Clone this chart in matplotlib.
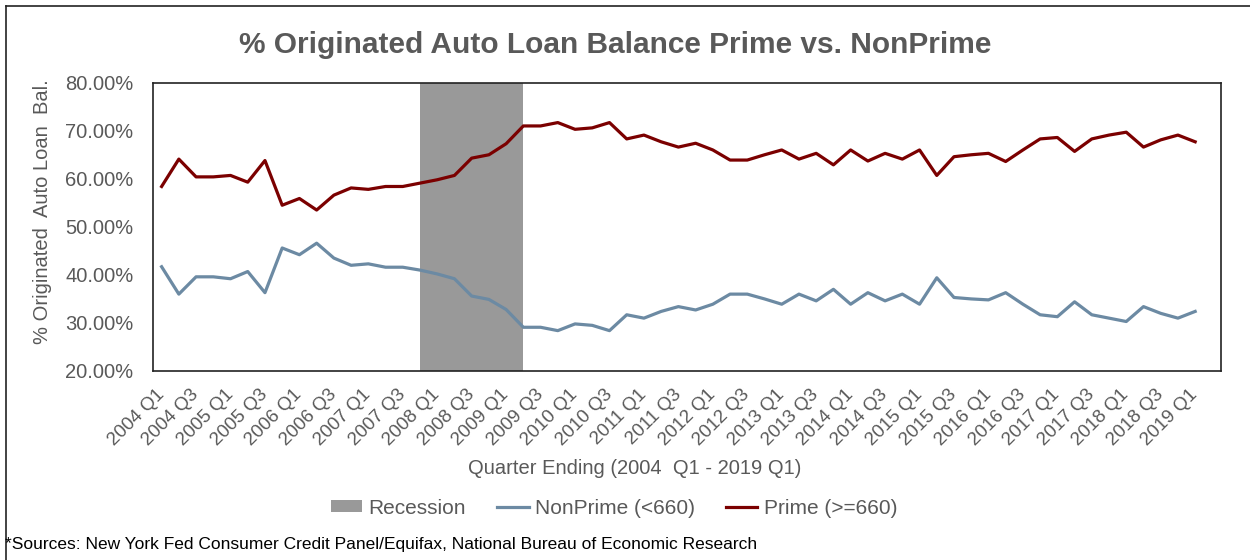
import numpy as np
import matplotlib
matplotlib.use("Agg")
import matplotlib.pyplot as plt
from matplotlib.lines import Line2D

plt.rcParams['font.family'] = ['Liberation Sans', 'DejaVu Sans']

# quarters 2004 Q1 .. 2019 Q1
quarters = ["%d Q%d" % (y, q) for y in range(2004, 2020) for q in range(1, 5)][:61]

prime = [58.4, 64.1, 60.4, 60.4, 60.7, 59.3, 63.8, 54.5, 55.9, 53.5,
         56.6, 58.1, 57.8, 58.4, 58.4, 59.1, 59.8, 60.7, 64.3, 65.0,
         67.3, 71.0, 71.0, 71.7, 70.3, 70.6, 71.7, 68.3, 69.1, 67.7,
         66.6, 67.4, 66.0, 63.9, 63.9, 65.0, 66.0, 64.1, 65.3, 62.9,
         66.0, 63.7, 65.3, 64.1, 66.0, 60.7, 64.6, 65.0, 65.3, 63.6,
         66.0, 68.3, 68.6, 65.7, 68.3, 69.1, 69.7, 66.6, 68.1, 69.1, 67.7]

nonprime = [41.7, 36.0, 39.6, 39.6, 39.2, 40.7, 36.3, 45.6, 44.2, 46.6,
            43.5, 42.0, 42.3, 41.6, 41.6, 41.0, 40.2, 39.2, 35.6, 34.9,
            32.8, 29.1, 29.1, 28.4, 29.8, 29.5, 28.4, 31.7, 31.0, 32.4,
            33.4, 32.7, 33.9, 36.0, 36.0, 35.0, 33.9, 36.0, 34.6, 37.0,
            33.9, 36.3, 34.6, 36.0, 33.9, 39.4, 35.3, 35.0, 34.8, 36.3,
            33.9, 31.7, 31.3, 34.4, 31.7, 31.0, 30.3, 33.4, 32.0, 31.0, 32.4]

recession = ("2007 Q4", "2009 Q2")
yticks = [20, 30, 40, 50, 60, 70, 80]

GRAY = "#595959"
RED = "#7b0000"
BLUE = "#6c8aa3"

fig = plt.figure(figsize=(12.5, 5.6), dpi=100)
ax = fig.add_axes([153/1250, 1 - 371/560, 1068/1250, 288.3/560])

x = np.arange(len(quarters))
ax.axvspan(quarters.index(recession[0]), quarters.index(recession[1]),
           color="#999999", lw=0, label="Recession")
ax.plot(x, nonprime, color=BLUE, lw=2.3, label="NonPrime (<660)")
ax.plot(x, prime, color=RED, lw=2.3, label="Prime (>=660)")

ax.set_xlim(-0.5, len(quarters) + 0.5)
ax.set_ylim(20, 80)
ax.set_yticks(yticks)
ax.set_yticklabels(["%.2f%%" % v for v in yticks])
ax.set_xticks(x[::2])
ax.set_xticklabels(quarters[::2], rotation=45, ha="right", va="center",
                   rotation_mode="anchor")
ax.tick_params(axis="x", length=0, pad=15, labelsize=13.5, labelcolor=GRAY)
ax.tick_params(axis="y", length=0, pad=14, labelsize=14.5, labelcolor=GRAY)
for s in ax.spines.values():
    s.set_color("#222222")
    s.set_linewidth(1.2)

fig.text(615/1250, 1 - 45/560, "% Originated Auto Loan Balance Prime vs. NonPrime",
         ha="center", va="center", fontsize=21.5, fontweight="bold", color=GRAY)
fig.text(43/1250, 1 - 212/560, "% Originated  Auto Loan  Bal.", rotation=90,
         ha="center", va="center", fontsize=14.5, color=GRAY)
fig.text(635/1250, 1 - 469/560, "Quarter Ending (2004  Q1 - 2019 Q1)",
         ha="center", va="center", fontsize=14.5, color=GRAY)
fig.text(5/1250, 1 - 545/560,
         "*Sources: New York Fed Consumer Credit Panel/Equifax, National Bureau of Economic Research",
         ha="left", va="center", fontsize=12.5, color="black")

leg = fig.legend(loc="center", bbox_to_anchor=(614/1250, 1 - 508/560), ncol=3,
                 frameon=False, fontsize=15, handlelength=1.5, handleheight=0.55,
                 handletextpad=0.3, columnspacing=1.5, labelcolor=GRAY)

# outer chart border (left and top visible)
fig.add_artist(Line2D([6/1250, 6/1250], [0, 1 - 6/560], color="#222222", lw=1.2))
fig.add_artist(Line2D([6/1250, 1], [1 - 6/560, 1 - 6/560], color="#222222", lw=1.2))

fig.savefig("out.png", dpi=100)
